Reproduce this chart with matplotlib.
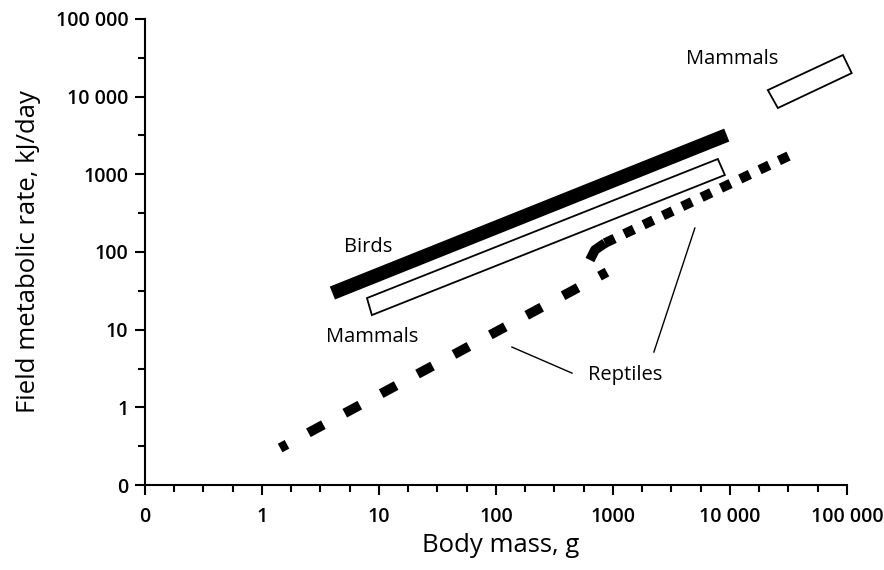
import numpy as np
import matplotlib.pyplot as plt
from matplotlib.patches import Polygon
from matplotlib.ticker import FixedLocator, NullFormatter

plt.rcParams['font.family'] = ['Open Sans', 'DejaVu Sans']

# 数据（从图上读取，对数坐标）
birds_x = [4.0, 9400]
birds_y = [29.6, 3190]

mammals_small_x = [7.9, 8.7, 9060, 7890]
mammals_small_y = [25.5, 15.4, 977, 1570]
mammals_large_x = [21100, 25700, 110000, 92500]
mammals_large_y = [12100, 7110, 20000, 34200]

reptiles_small_x = [1.43, 889]
reptiles_small_y = [0.30, 55]
reptiles_kink_x = [636, 702, 855]
reptiles_kink_y = [78.7, 106, 130]
reptiles_large_x = [855, 36000]
reptiles_large_y = [130, 1875]

tick_vals = [0.1, 1, 10, 100, 1000, 10000, 100000]
tick_labels = ['0', '1', '10', '100', '1000', '10 000', '100 000']

fig = plt.figure(figsize=(8.84, 5.70), dpi=100)
ax = fig.add_axes([0.164, 0.149, 0.794, 0.818])
ax.set_xscale('log')
ax.set_yscale('log')
ax.set_xlim(0.1, 1e5)
ax.set_ylim(0.1, 1e5)

# 鸟类
ax.plot(birds_x, birds_y, color='black', lw=10, solid_capstyle='butt')
# 哺乳动物（方框）
ax.add_patch(Polygon(list(zip(mammals_small_x, mammals_small_y)), closed=True,
                     fill=False, edgecolor='black', lw=1.3))
ax.add_patch(Polygon(list(zip(mammals_large_x, mammals_large_y)), closed=True,
                     fill=False, edgecolor='black', lw=1.3, clip_on=False))
# 爬行动物
ax.plot(reptiles_small_x, reptiles_small_y, color='black', lw=7,
        linestyle=(0.95, (1.75, 2.5)), dash_capstyle='butt')
ax.plot(reptiles_kink_x, reptiles_kink_y, color='black', lw=7, solid_capstyle='butt')
ax.plot(reptiles_large_x, reptiles_large_y, color='black', lw=7,
        linestyle=(0, (1.1, 1.1)), dash_capstyle='butt')

# 引线
ax.plot([137, 447], [5.97, 2.76], color='black', lw=1)
ax.plot([5020, 2240], [203, 5.15], color='black', lw=1)

# 标注
ax.text(8.05, 99.8, 'Birds', ha='center', va='baseline', fontsize=14.5)
ax.text(8.7, 6.92, 'Mammals', ha='center', va='baseline', fontsize=14.5)
ax.text(10500, 26200, 'Mammals', ha='center', va='baseline', fontsize=14.5)
ax.text(1270, 2.24, 'Reptiles', ha='center', va='baseline', fontsize=14.5)

# 坐标轴
for s in ['top', 'right']:
    ax.spines[s].set_visible(False)
for s in ['left', 'bottom']:
    ax.spines[s].set_linewidth(1.5)

ax.xaxis.set_major_locator(FixedLocator(tick_vals))
ax.yaxis.set_major_locator(FixedLocator(tick_vals))
ax.set_xticklabels(tick_labels, fontweight='semibold')
ax.set_yticklabels(tick_labels, fontweight='semibold')
x_minor = [10 ** (k + f) for k in range(-1, 5) for f in (0.25, 0.5, 0.75)]
y_minor = [10 ** (k + 0.5) for k in range(-1, 5)]
ax.xaxis.set_minor_locator(FixedLocator(x_minor))
ax.yaxis.set_minor_locator(FixedLocator(y_minor))
ax.xaxis.set_minor_formatter(NullFormatter())
ax.yaxis.set_minor_formatter(NullFormatter())
ax.tick_params(which='major', length=7.5, width=1.5, labelsize=14)
ax.tick_params(axis='y', which='major', pad=4.5)
ax.tick_params(axis='x', which='major', pad=8)
ax.tick_params(which='minor', length=5, width=1.5)

ax.set_xlabel('Body mass, g', fontsize=18.5)
ax.set_ylabel('Field metabolic rate, kJ/day', fontsize=18.5)
ax.xaxis.set_label_coords(0.507, -0.103)
ax.yaxis.set_label_coords(-0.148, 0.5)

fig.savefig('out.png', dpi=100)
